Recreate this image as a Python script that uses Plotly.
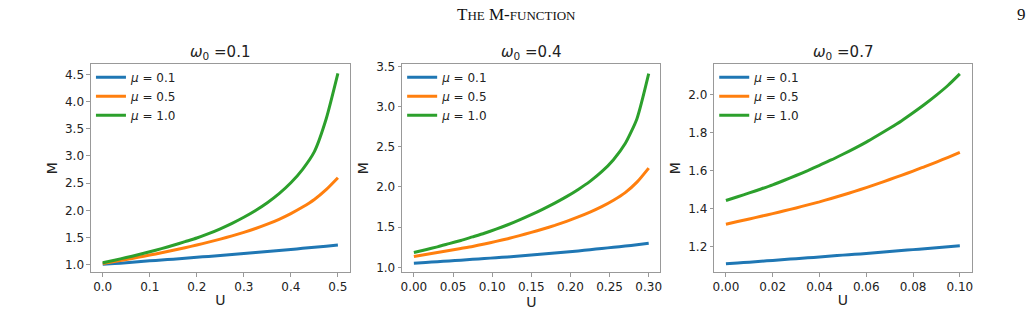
import plotly.graph_objects as go

# ---------------- data ----------------
mu_labels = ["<i>μ</i> = 0.1", "<i>μ</i> = 0.5", "<i>μ</i> = 1.0"]
colors = ["#1f77b4", "#ff7f0e", "#2ca02c"]
omega_titles = ["<i>ω</i><sub>0</sub> =0.1", "<i>ω</i><sub>0</sub> =0.4", "<i>ω</i><sub>0</sub> =0.7"]

# panel 1: omega0 = 0.1
U1 = [0.0, 0.025, 0.05, 0.075, 0.1, 0.125, 0.15, 0.175, 0.2, 0.225, 0.25,
      0.275, 0.3, 0.325, 0.35, 0.375, 0.4, 0.425, 0.45, 0.475, 0.5]
M1_mu01 = [1.005, 1.02, 1.035, 1.052, 1.07, 1.085, 1.10, 1.118, 1.135, 1.152, 1.17,
           1.187, 1.205, 1.222, 1.24, 1.26, 1.28, 1.30, 1.32, 1.34, 1.36]
M1_mu05 = [1.02, 1.057, 1.095, 1.135, 1.176, 1.219, 1.264, 1.311, 1.361, 1.414, 1.47,
           1.53, 1.595, 1.665, 1.745, 1.835, 1.94, 2.06, 2.20, 2.38, 2.60]
M1_mu10 = [1.035, 1.082, 1.130, 1.182, 1.236, 1.294, 1.356, 1.423, 1.490, 1.570, 1.660,
           1.760, 1.872, 1.997, 2.140, 2.307, 2.507, 2.755, 3.080, 3.680, 4.52]

# panel 2: omega0 = 0.4
U2 = [0.0, 0.015, 0.03, 0.045, 0.06, 0.075, 0.09, 0.105, 0.12, 0.135, 0.15,
      0.165, 0.18, 0.195, 0.21, 0.225, 0.24, 0.255, 0.27, 0.285, 0.3]
M2_mu01 = [1.052, 1.061, 1.07, 1.08, 1.09, 1.10, 1.11, 1.12, 1.13, 1.142, 1.155,
           1.167, 1.18, 1.192, 1.205, 1.22, 1.235, 1.25, 1.265, 1.282, 1.30]
M2_mu05 = [1.135, 1.16, 1.185, 1.21, 1.235, 1.26, 1.29, 1.323, 1.357, 1.395, 1.435,
           1.477, 1.522, 1.572, 1.627, 1.687, 1.755, 1.835, 1.93, 2.06, 2.235]
M2_mu10 = [1.185, 1.22, 1.255, 1.295, 1.335, 1.38, 1.425, 1.475, 1.53, 1.59, 1.655,
           1.725, 1.80, 1.88, 1.97, 2.07, 2.19, 2.34, 2.54, 2.85, 3.41]

# panel 3: omega0 = 0.7
U3 = [0.0, 0.005, 0.01, 0.015, 0.02, 0.025, 0.03, 0.035, 0.04, 0.045, 0.05,
      0.055, 0.06, 0.065, 0.07, 0.075, 0.08, 0.085, 0.09, 0.095, 0.1]
M3_mu01 = [1.109, 1.113, 1.117, 1.122, 1.126, 1.131, 1.135, 1.14, 1.144, 1.149, 1.154,
           1.158, 1.163, 1.168, 1.173, 1.178, 1.183, 1.188, 1.193, 1.198, 1.203]
M3_mu05 = [1.317, 1.331, 1.345, 1.359, 1.373, 1.388, 1.403, 1.419, 1.435, 1.453, 1.471,
           1.49, 1.51, 1.531, 1.553, 1.575, 1.597, 1.621, 1.645, 1.67, 1.696]
M3_mu10 = [1.442, 1.462, 1.482, 1.503, 1.525, 1.549, 1.574, 1.60, 1.628, 1.656, 1.686,
           1.717, 1.75, 1.786, 1.823, 1.862, 1.905, 1.95, 1.998, 2.05, 2.11]

x_ticks = [[0.0, 0.1, 0.2, 0.3, 0.4, 0.5],
           [0.0, 0.05, 0.10, 0.15, 0.20, 0.25, 0.30],
           [0.0, 0.02, 0.04, 0.06, 0.08, 0.10]]
x_ticktext = [["0.0", "0.1", "0.2", "0.3", "0.4", "0.5"],
              ["0.00", "0.05", "0.10", "0.15", "0.20", "0.25", "0.30"],
              ["0.00", "0.02", "0.04", "0.06", "0.08", "0.10"]]
y_ticks = [[1.0, 1.5, 2.0, 2.5, 3.0, 3.5, 4.0, 4.5],
           [1.0, 1.5, 2.0, 2.5, 3.0, 3.5],
           [1.2, 1.4, 1.6, 1.8, 2.0]]
y_ticktext = [["1.0", "1.5", "2.0", "2.5", "3.0", "3.5", "4.0", "4.5"],
              ["1.0", "1.5", "2.0", "2.5", "3.0", "3.5"],
              ["1.2", "1.4", "1.6", "1.8", "2.0"]]

panels = [(U1, [M1_mu01, M1_mu05, M1_mu10]),
          (U2, [M2_mu01, M2_mu05, M2_mu10]),
          (U3, [M3_mu01, M3_mu05, M3_mu10])]

# ---------------- layout geometry ----------------
W, H = 1033, 329
x_domains = [[89.3 / W, 349 / W], [401.7 / W, 661 / W], [715 / W, 973.3 / W]]
y_domain = [(H - 273) / H, (H - 60.7) / H]
x_ranges = [[-0.025, 0.525], [-0.015, 0.315], [-0.005, 0.105]]
y_ranges = [[0.861, 4.686], [0.94, 3.525], [1.064, 2.16]]

font_family = "DejaVu Sans"
axis_color = "#999999"
text_color = "#222222"

fig = go.Figure()

for i, (U, series) in enumerate(panels):
    xa = "x" if i == 0 else f"x{i+1}"
    ya = "y" if i == 0 else f"y{i+1}"
    leg = "legend" if i == 0 else f"legend{i+1}"
    for j, M in enumerate(series):
        fig.add_trace(go.Scatter(
            x=U, y=M, mode="lines", name=mu_labels[j],
            line=dict(color=colors[j], width=3, shape="spline", smoothing=0.6),
            xaxis=xa, yaxis=ya, legend=leg, showlegend=True,
        ))

layout = dict(
    width=W, height=H,
    margin=dict(l=0, r=0, t=0, b=0),
    paper_bgcolor="white", plot_bgcolor="white",
    font=dict(family=font_family, color=text_color, size=11),
    annotations=[],
)

for i in range(3):
    xk = "xaxis" if i == 0 else f"xaxis{i+1}"
    yk = "yaxis" if i == 0 else f"yaxis{i+1}"
    ya_anchor = "y" if i == 0 else f"y{i+1}"
    xa_anchor = "x" if i == 0 else f"x{i+1}"
    layout[xk] = dict(
        domain=x_domains[i], range=x_ranges[i], anchor=ya_anchor,
        tickmode="array", tickvals=x_ticks[i], ticktext=x_ticktext[i],
        showgrid=False, zeroline=False,
        showline=True, linecolor=axis_color, linewidth=1, mirror=True,
        ticks="outside", ticklen=3.5, tickcolor=axis_color, tickwidth=1,
        tickfont=dict(size=12, color=text_color, family=font_family),
        title=dict(text="U", font=dict(size=14, family=font_family, color=text_color), standoff=2),
    )
    layout[yk] = dict(
        domain=y_domain, range=y_ranges[i], anchor=xa_anchor,
        tickmode="array", tickvals=y_ticks[i], ticktext=y_ticktext[i],
        showgrid=False, zeroline=False,
        showline=True, linecolor=axis_color, linewidth=1, mirror=True,
        ticks="outside", ticklen=3.5, tickcolor=axis_color, tickwidth=1,
        tickfont=dict(size=12, color=text_color, family=font_family),
        title=dict(text="M", font=dict(size=14, family=font_family, color=text_color), standoff=4),
    )
    lk = "legend" if i == 0 else f"legend{i+1}"
    layout[lk] = dict(
        x=x_domains[i][0] + 0 / W, y=(H - 59) / H, xanchor="left", yanchor="top",
        bgcolor="rgba(0,0,0,0)", borderwidth=0, tracegroupgap=0,
        font=dict(size=12, family=font_family, color=text_color),
    )
    layout["annotations"].append(dict(
        text=omega_titles[i], xref="paper", yref="paper",
        x=(x_domains[i][0] + x_domains[i][1]) / 2, y=(H - 49) / H,
        xanchor="center", yanchor="middle", showarrow=False,
        font=dict(size=15, family=font_family, color=text_color),
    ))

# page header
layout["annotations"].append(dict(
    text="T<span style='font-size:13px'>HE</span> M-<span style='font-size:13px'>FUNCTION</span>",
    xref="paper", yref="paper", x=516 / W, y=(H - 10) / H,
    xanchor="center", yanchor="middle", showarrow=False,
    font=dict(size=17, family="Liberation Serif", color="#111111"),
))
layout["annotations"].append(dict(
    text="9", xref="paper", yref="paper", x=1023 / W, y=(H - 10) / H,
    xanchor="center", yanchor="middle", showarrow=False,
    font=dict(size=17, family="Liberation Serif", color="#111111"),
))

fig.update_layout(**layout)
fig.write_html("out.html")
